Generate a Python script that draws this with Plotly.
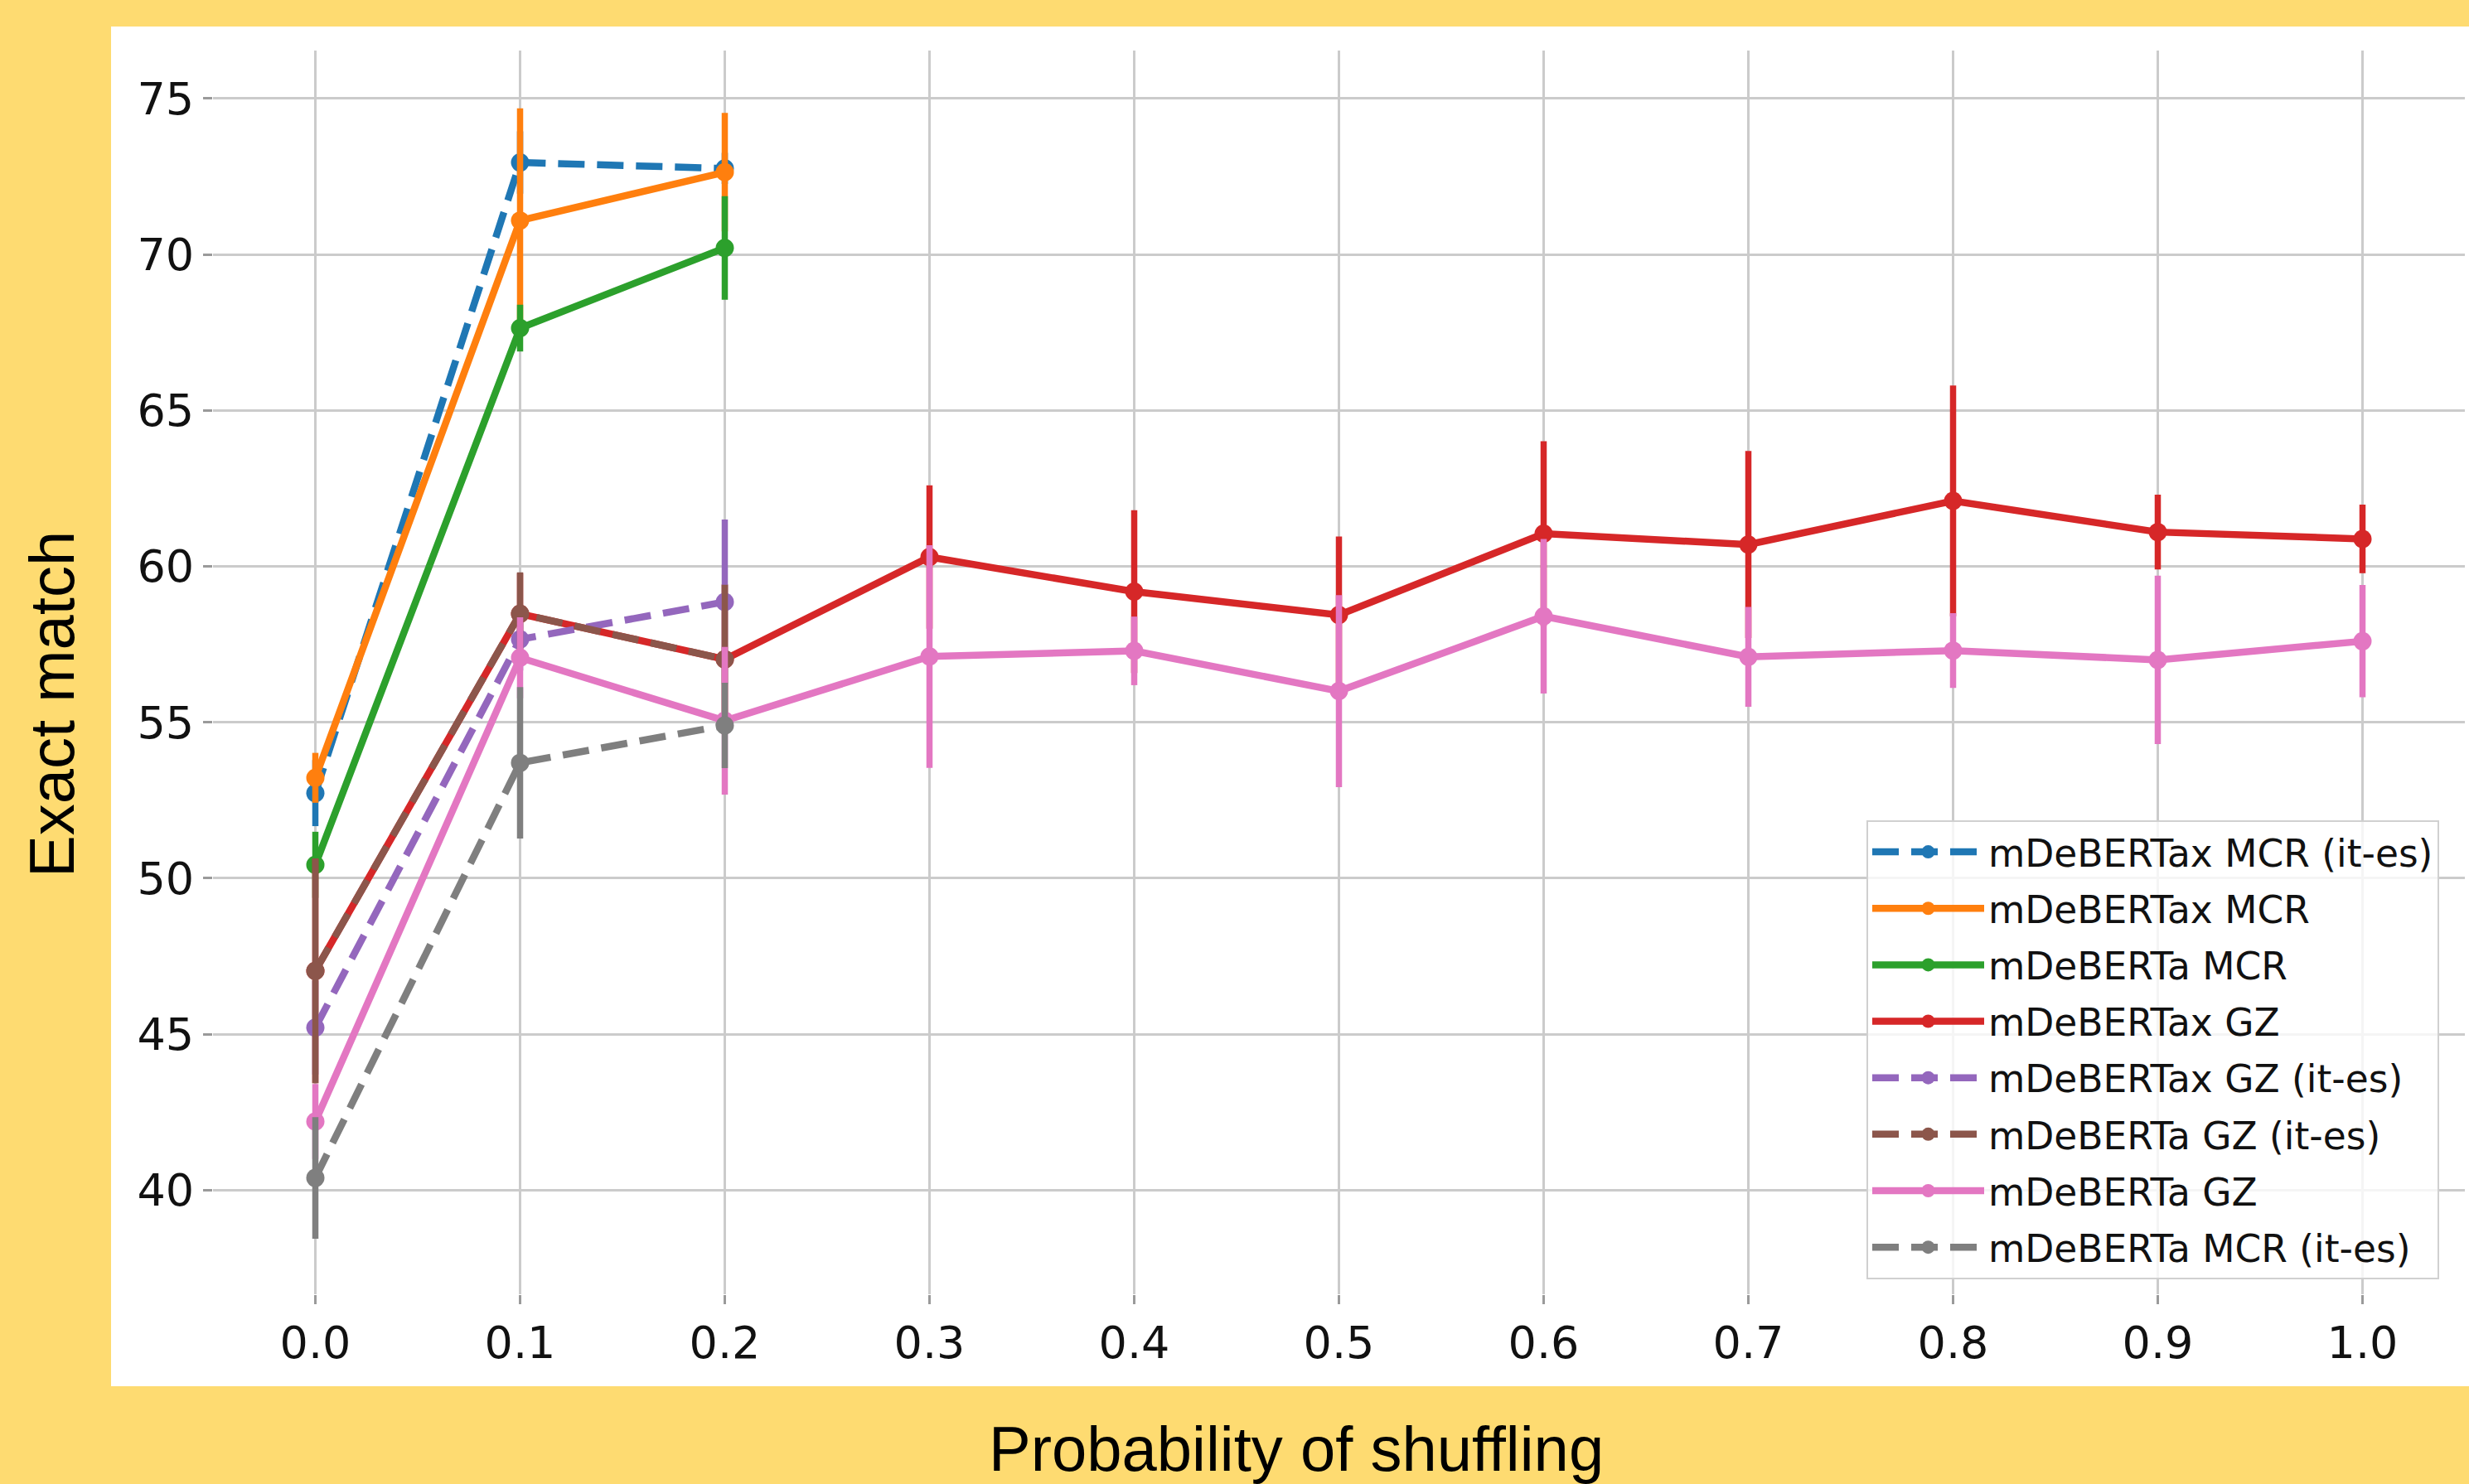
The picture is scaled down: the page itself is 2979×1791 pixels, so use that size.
import plotly.graph_objects as go

# ---------------- data ----------------
x_short = [0.0, 0.1, 0.2]
x_full = [0.0, 0.1, 0.2, 0.3, 0.4, 0.5, 0.6, 0.7, 0.8, 0.9, 1.0]

mdebertax_mcr_ites = [52.73, 72.95, 72.76]
mdebertax_mcr_ites_err = [1.06, 1.0, 0.5]

mdebertax_mcr = [53.22, 71.09, 72.64]
mdebertax_mcr_err = [0.8, 3.6, 1.9]

mdeberta_mcr = [50.43, 67.64, 70.21]
mdeberta_mcr_err = [1.06, 0.75, 1.66]

mdebertax_gz = [47.03, 58.48, 57.02, 60.30, 59.19, 58.44, 61.05, 60.70, 62.10, 61.10, 60.88]
mdebertax_gz_err = [3.6, 1.3, 2.4, 2.3, 2.61, 2.52, 2.96, 3.0, 3.7, 1.2, 1.1]

mdebertax_gz_ites = [45.21, 57.66, 58.86]
mdebertax_gz_ites_err = [1.5, 1.0, 2.64]

mdeberta_gz_ites = [47.03, 58.48, 57.02]
mdeberta_gz_ites_err = [3.6, 1.33, 2.39]

mdeberta_gz = [42.20, 57.07, 55.05, 57.11, 57.29, 56.00, 58.40, 57.10, 57.30, 57.00, 57.60]
mdeberta_gz_err = [1.2, 1.3, 2.37, 3.57, 1.1, 3.08, 2.48, 1.6, 1.2, 2.7, 1.8]

mdeberta_mcr_ites = [40.39, 53.70, 54.90]
mdeberta_mcr_ites_err = [1.95, 2.43, 1.37]

series = [
    ("mDeBERTax MCR (it-es)", x_short, mdebertax_mcr_ites, mdebertax_mcr_ites_err, "#1f77b4", True),
    ("mDeBERTax MCR", x_short, mdebertax_mcr, mdebertax_mcr_err, "#ff7f0e", False),
    ("mDeBERTa MCR", x_short, mdeberta_mcr, mdeberta_mcr_err, "#2ca02c", False),
    ("mDeBERTax GZ", x_full, mdebertax_gz, mdebertax_gz_err, "#d62728", False),
    ("mDeBERTax GZ (it-es)", x_short, mdebertax_gz_ites, mdebertax_gz_ites_err, "#9467bd", True),
    ("mDeBERTa GZ (it-es)", x_short, mdeberta_gz_ites, mdeberta_gz_ites_err, "#8c564b", True),
    ("mDeBERTa GZ", x_full, mdeberta_gz, mdeberta_gz_err, "#e377c2", False),
    ("mDeBERTa MCR (it-es)", x_short, mdeberta_mcr_ites, mdeberta_mcr_ites_err, "#7f7f7f", True),
]

x_ticks = [0.0, 0.1, 0.2, 0.3, 0.4, 0.5, 0.6, 0.7, 0.8, 0.9, 1.0]
x_ticklabels = ["0.0", "0.1", "0.2", "0.3", "0.4", "0.5", "0.6", "0.7", "0.8", "0.9", "1.0"]
y_ticks = [40, 45, 50, 55, 60, 65, 70, 75]

# ---------------- figure ----------------
W, H = 2979, 1791
ML, MR, MT, MB = 257, 5, 61, 229
PW, PH = W - ML - MR, H - MT - MB

def px_x(px):
    return (px - ML) / PW

def px_y(py):
    return (H - MB - py) / PH

fig = go.Figure()
for name, xs, ys, es, color, dashed in series:
    fig.add_trace(go.Scatter(
        x=xs, y=ys, name=name, mode="lines+markers",
        legendgroup=name,
        line=dict(color=color, width=8.5, dash="32px,15px" if dashed else "solid"),
        marker=dict(color=color, size=22),
        error_y=dict(type="data", array=es, visible=True, color=color,
                     thickness=7.5, width=0),
    ))

# white panel behind the chart
fig.add_shape(type="rect", xref="paper", yref="paper",
              x0=px_x(134), x1=px_x(2990), y0=px_y(1673), y1=px_y(32),
              fillcolor="white", line=dict(width=0), layer="below")

fig.add_annotation(text="Exact match", xref="paper", yref="paper",
                   x=px_x(62), y=px_y(850), textangle=-90, showarrow=False,
                   xanchor="center", yanchor="middle",
                   font=dict(family="Liberation Sans, Arial", size=76, color="black"))
fig.add_annotation(text="Probability of shuffling", xref="paper", yref="paper",
                   x=px_x(1564), y=px_y(1749), showarrow=False,
                   xanchor="center", yanchor="middle",
                   font=dict(family="Liberation Sans, Arial", size=76, color="black"))

fig.update_layout(
    width=W, height=H, autosize=False,
    margin=dict(l=ML, r=MR, t=MT, b=MB, pad=0, autoexpand=False),
    paper_bgcolor="#fedb71",
    plot_bgcolor="white",
    showlegend=True,
    legend=dict(
        x=px_x(2252), y=px_y(990), xanchor="left", yanchor="top",
        bgcolor="rgba(255,255,255,0.8)", bordercolor="#d0d0d0", borderwidth=2,
        font=dict(family="DejaVu Sans", size=45.5, color="#111111"),
        tracegroupgap=6, itemwidth=135,
        traceorder="grouped",
    ),
    xaxis=dict(
        range=[-0.05, 1.05], tickvals=x_ticks, ticktext=x_ticklabels,
        showgrid=True, gridcolor="#cbcbcb", gridwidth=3,
        zeroline=False, showline=False,
        ticks="outside", ticklen=11, tickwidth=3, tickcolor="#9a9a9a",
        tickfont=dict(family="DejaVu Sans", size=54, color="#111111"),
    ),
    yaxis=dict(
        range=[36.66, 76.54], tickvals=y_ticks,
        showgrid=True, gridcolor="#cbcbcb", gridwidth=3,
        zeroline=False, showline=False,
        ticks="outside", ticklen=11, tickwidth=3, tickcolor="#9a9a9a",
        tickfont=dict(family="DejaVu Sans", size=54, color="#111111"),
    ),
)

fig.write_html(
    "out.html",
    config={"displayModeBar": False},
    post_script="document.body.style.margin='0';document.body.style.padding='0';document.body.style.overflow='hidden';",
)
